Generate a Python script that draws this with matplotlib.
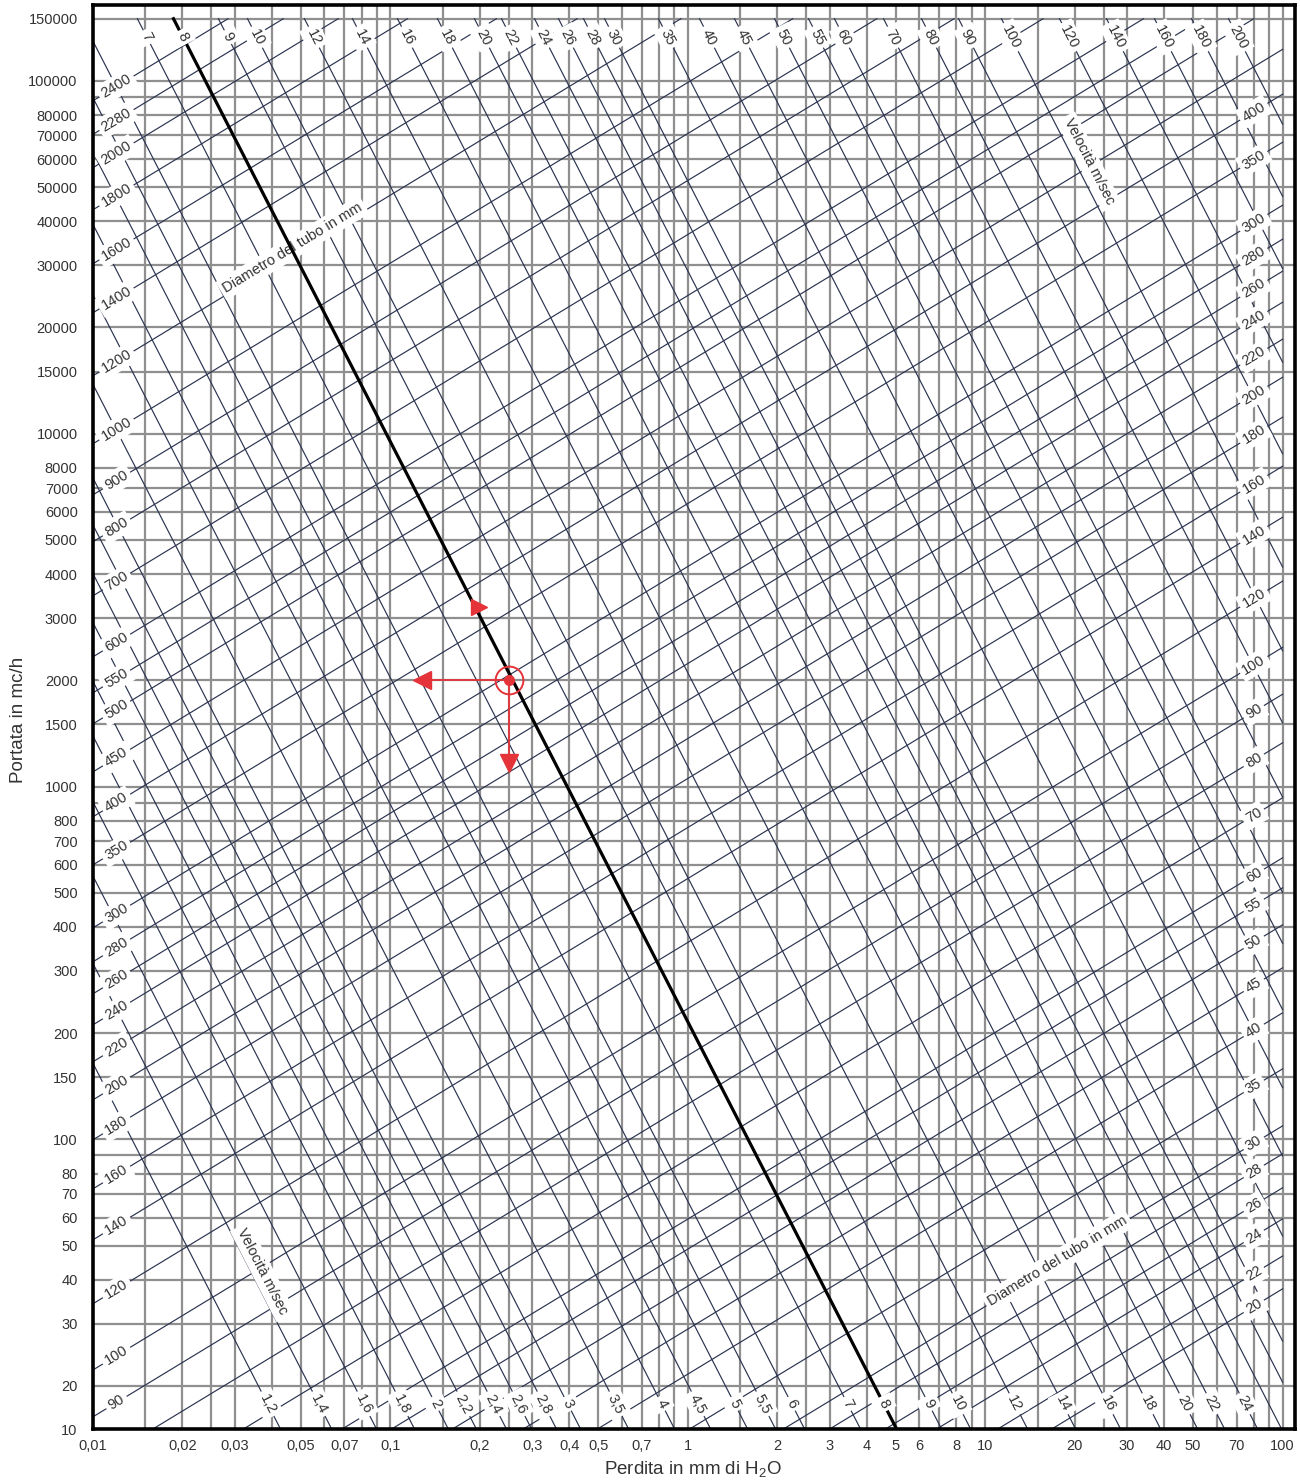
import numpy as np
import matplotlib
matplotlib.use('Agg')
import matplotlib.pyplot as plt
from matplotlib.ticker import NullLocator

plt.rcParams.update({
    'font.family': ['Liberation Sans', 'DejaVu Sans'],
    'font.size': 10.5,
    'mathtext.default': 'regular',
})

# --- data ----------------------------------------------------------------
# velocity lines (m/s) labelled at the bottom: loss where they cross Q = 20
vel_low = [1.2, 1.4, 1.6, 1.8, 2, 2.2, 2.4, 2.6, 2.8, 3, 3.5, 4, 4.5, 5, 5.5,
           6, 7, 8, 9, 10, 12, 14, 16, 18, 20, 22, 24]
vel_low_x = [0.036, 0.0535, 0.0757, 0.1016, 0.132, 0.164, 0.207, 0.2515,
             0.305, 0.3675, 0.533, 0.761, 1.006, 1.339, 1.663, 2.082, 3.21,
             4.245, 6.01, 7.53, 11.7, 16.97, 24.04, 32.77, 43.64, 53.79, 69.46]
# velocity lines labelled only at the top: loss where they cross Q = 150000
vel_high = [26, 28, 30, 35, 40, 45, 50, 55, 60, 70, 80, 90, 100, 120, 140,
            160, 180, 200]
vel_high_x = [0.3675, 0.446, 0.525, 0.797, 1.095, 1.436, 1.957, 2.546, 3.113,
              4.551, 6.108, 8.135, 11.34, 17.78, 25.58, 37.09, 49.40, 65.79]

# pipe diameter lines (mm): flow where they leave the left edge (loss 0.01)
diam_left = [90, 100, 120, 140, 160, 180, 200, 220, 240, 260, 280, 300, 350,
             400, 450, 500, 550, 600, 700, 800, 900, 1000, 1200, 1400, 1600,
             1800, 2000, 2280, 2400]
diam_left_q = [16.35, 22.2, 34.2, 51.9, 72.4, 99.7, 129.4, 165.9, 211.1,
               258.5, 318.6, 397.6, 599.8, 820.7, 1100, 1505, 1843, 2331, 3471,
               4939, 6709, 9363, 14590, 22010, 30310, 43110, 56740, 70530,
               87800]
# small diameters: flow where they reach the right edge (loss 100)
diam_right = [20, 22, 24, 26, 28, 30, 35, 40, 45, 50, 55, 60, 70, 80]
diam_right_q = [37.7, 46.7, 59.5, 72.9, 90.95, 109.2, 158.4, 228.3, 306.3,
                405.5, 516.2, 628.0, 928.9, 1330]

vel_slope = -1.644    # d logQ / d log(loss) of the velocity lines
diam_slope = 0.512    # d logQ / d log(loss) of the diameter lines
highlight_vel = 8

example_point = (0.25, 2000)

x_ticks = [0.01, 0.02, 0.03, 0.05, 0.07, 0.1, 0.2, 0.3, 0.4, 0.5, 0.7, 1, 2,
           3, 4, 5, 6, 8, 10, 20, 30, 40, 50, 70, 100]
x_tick_labels = ['0,01', '0,02', '0,03', '0,05', '0,07', '0,1', '0,2', '0,3',
                 '0,4', '0,5', '0,7', '1', '2', '3', '4', '5', '6', '8', '10',
                 '20', '30', '40', '50', '70', '100']
y_ticks = [20, 30, 40, 50, 60, 70, 80, 100, 150, 200, 300, 400, 500, 600, 700,
           800, 1000, 1500, 2000, 3000, 4000, 5000, 6000, 7000, 8000, 10000,
           15000, 20000, 30000, 40000, 50000, 60000, 70000, 80000, 100000,
           150000]
grid_x = [0.015, 0.02, 0.025, 0.03, 0.04, 0.05, 0.06, 0.07, 0.08, 0.09,
          0.1, 0.15, 0.2, 0.25, 0.3, 0.4, 0.5, 0.6, 0.7, 0.8, 0.9,
          1, 1.5, 2, 2.5, 3, 4, 5, 6, 7, 8, 9,
          10, 15, 20, 25, 30, 40, 50, 60, 70, 80, 90, 100]
grid_y = [20, 30, 40, 50, 60, 70, 80, 90, 100, 150, 200, 300, 400, 500, 600,
          700, 800, 900, 1000, 1500, 2000, 3000, 4000, 5000, 6000, 7000, 8000,
          10000, 15000, 20000, 30000, 40000, 50000, 60000, 70000, 80000, 90000,
          100000, 150000]

X_MIN, X_MAX = 0.01, 110
Q_MIN, Q_MAX = 15.1, 164000
LINE_X_RIGHT, LINE_Q_TOP = 100, 150000

GRID = '#8f8f8f'
LINE = '#2b3350'
TXT = '#333333'
RED = '#e4343a'


def clip_line(x0, q0, s):
    lx0, lq0 = np.log10(x0), np.log10(q0)
    la = lx0 + (np.log10(LINE_Q_TOP) - lq0) / s
    lb = lx0 + (np.log10(Q_MIN) - lq0) / s
    lo = max(np.log10(X_MIN), min(la, lb))
    hi = min(np.log10(LINE_X_RIGHT), max(la, lb))
    lx = np.array([lo, hi])
    return 10**lx, 10**(lq0 + s * (lx - lx0))


def q_at(x0, q0, s, x):
    return 10**(np.log10(q0) + s * (np.log10(x) - np.log10(x0)))


def x_at(x0, q0, s, q):
    return 10**(np.log10(x0) + (np.log10(q) - np.log10(q0)) / s)


def fmt(v):
    return str(v).replace('.', ',')


fig = plt.figure(figsize=(13, 14.83), dpi=100)
ax = fig.add_axes([0.0715, 0.0364, 0.9246, 0.9602])
ax.set_xscale('log')
ax.set_yscale('log')
ax.set_xlim(X_MIN, X_MAX)
ax.set_ylim(Q_MIN, Q_MAX)


def screen_angle(s):
    p = ax.transData.transform([(1, 1000), (10, 1000 * 10**s)])
    return np.degrees(np.arctan2(p[1, 1] - p[0, 1], p[1, 0] - p[0, 0]))


vel_rot = screen_angle(vel_slope)
diam_rot = screen_angle(diam_slope)
box = dict(boxstyle='square,pad=0.25', fc='white', ec='none')
lab_kw = dict(ha='center', va='center', fontsize=10.5, color=TXT, bbox=box,
              zorder=6, rotation_mode='anchor')

# grid
for gx in grid_x:
    ax.axvline(gx, color=GRID, lw=1.6, zorder=1)
for gy in grid_y:
    ax.axhline(gy, color=GRID, lw=1.6, zorder=1)

# velocity lines
vel_all = ([(v, x, 20) for v, x in zip(vel_low, vel_low_x)] +
           [(v, x, 150000) for v, x in zip(vel_high, vel_high_x)])
for v, x0, q0 in vel_all:
    xs, qs = clip_line(x0, q0, vel_slope)
    if v == highlight_vel:
        ax.plot(xs, qs, color='black', lw=2.3, zorder=5)
    else:
        ax.plot(xs, qs, color=LINE, lw=0.85, zorder=2)
    if v <= 24:
        ax.text(x_at(x0, q0, vel_slope, 17.8), 17.8, fmt(v), rotation=vel_rot,
                **lab_kw)
    if v >= 7:
        ax.text(x_at(x0, q0, vel_slope, 133000), 133000, fmt(v),
                rotation=vel_rot, **lab_kw)

# diameter lines
diam_all = ([(d, 0.01, q) for d, q in zip(diam_left, diam_left_q)] +
            [(d, 100, q) for d, q in zip(diam_right, diam_right_q)])
for d, x0, q0 in diam_all:
    xs, qs = clip_line(x0, q0, diam_slope)
    ax.plot(xs, qs, color=LINE, lw=0.85, zorder=2)
    if d >= 90:
        ax.text(0.012, q_at(x0, q0, diam_slope, 0.012), fmt(d),
                rotation=diam_rot, **lab_kw)
    if d <= 400:
        ax.text(80, q_at(x0, q0, diam_slope, 80), fmt(d), rotation=diam_rot,
                **lab_kw)

# scale names written inside the chart
note_kw = dict(ha='center', va='center', fontsize=10.5, color=TXT,
               bbox=dict(boxstyle='square,pad=0.25', fc='white', ec='none'),
               zorder=4, rotation_mode='anchor')
ax.text(0.0469, 33650, 'Diametro del tubo in mm', rotation=diam_rot, **note_kw)
ax.text(17.5, 45.2, 'Diametro del tubo in mm', rotation=diam_rot, **note_kw)
ax.text(22.3, 58970, 'Velocità m/sec', rotation=vel_rot, **note_kw)
ax.text(0.0372, 42.1, 'Velocità m/sec', rotation=vel_rot, **note_kw)

# worked example in red
px, pq = example_point
ax.plot([px, 0.135], [pq, pq], color=RED, lw=1.3, zorder=7)
ax.plot([px, px], [pq, 1190], color=RED, lw=1.3, zorder=7)
ax.plot(0.128, pq, marker='<', ms=13, color=RED, zorder=8)
ax.plot(px, 1167, marker='v', ms=13, color=RED, zorder=8)
ax.plot(0.198, 3230, marker='>', ms=12, color=RED, zorder=8)
ax.plot(px, pq, marker='o', ms=20, mfc='none', mec=RED, mew=1.4, zorder=8)
ax.plot(px, pq, marker='o', ms=7, color=RED, zorder=8)

# axes
ax.set_xticks(x_ticks, x_tick_labels)
ax.set_yticks([Q_MIN] + y_ticks, ['10'] + [str(v) for v in y_ticks])
ax.xaxis.set_minor_locator(NullLocator())
ax.yaxis.set_minor_locator(NullLocator())
ax.tick_params(length=0, labelsize=10.5, colors=TXT)
ax.tick_params(axis='x', pad=7)
ax.tick_params(axis='y', pad=11)
for sp in ax.spines.values():
    sp.set_linewidth(2.6)
    sp.set_color('black')
    sp.set_zorder(9)

ax.set_xlabel('Perdita in mm di H$_2$O', fontsize=13.5, color=TXT)
ax.xaxis.set_label_coords(0.499, -0.021)
ax.set_ylabel('Portata in mc/h', fontsize=13.5, color=TXT)
ax.yaxis.set_label_coords(-0.055, 0.498)

plt.savefig('out.png', dpi=100)
